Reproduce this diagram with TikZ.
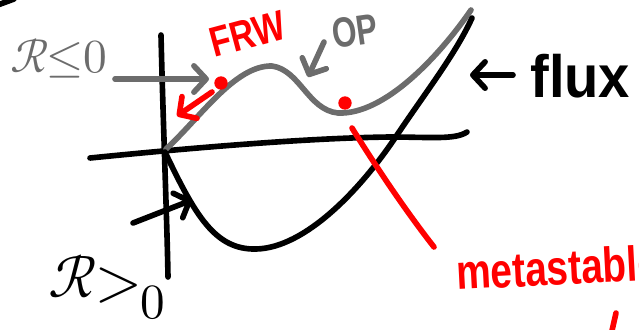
\documentclass[tikz,border=0pt]{standalone}
\usepackage{fontspec}
\usepackage{unicode-math}
\setmainfont{Liberation Sans}
\setmathfont{Latin Modern Math}
\usetikzlibrary{arrows.meta}
\definecolor{pencil}{RGB}{108,108,108}
\definecolor{marker}{RGB}{255,0,0}

\begin{document}
\begin{tikzpicture}[
  x=0.02cm, y=-0.02cm,
  ink/.style={line width=3.2pt, line cap=round, line join=round},
  arrow/.style={ink, -{Straight Barb[length=7pt, width=15pt, round]}},
  lbl/.style={inner sep=0pt, anchor=base west}
]
\useasboundingbox (0,0) rectangle (639,329);
\clip (0,0) rectangle (639,329);
\draw[ink] (-5,6) -- (14,-1);
\draw[ink] (161,35) .. controls (163,120) and (167,220) .. (168,277);
\draw[ink] (90,158) .. controls (170,150) and (300,138) .. (390,137) .. controls (430,137) and (455,140) .. (467,132);
\draw[ink, pencil] (166,149) .. controls (200,118) and (235,65) .. (272,66) .. controls (300,70) and (308,110) .. (338,113) .. controls (385,115) and (440,55) .. (471,10);
\draw[ink] (165,152) .. controls (195,215) and (215,250) .. (256,249) .. controls (305,248) and (360,190) .. (395,138) .. controls (425,93) and (455,55) .. (472,18);
\draw[ink, marker] (352,128) .. controls (375,165) and (405,210) .. (434,247);
\fill[marker] (221,83) circle[radius=3.8pt];
\fill[marker] (345,103) circle[radius=3.8pt];
\node[lbl, pencil, font=\fontsize{27}{27}\selectfont] (rneg) at (10,72) {$\mathcal{R}\mkern-6mu\leq\mkern-5mu0$};
\node[lbl, marker, font=\bfseries\fontsize{24}{24}\selectfont, rotate=15, xscale=0.8] (frw) at (214,58) {FRW};
\node[lbl, pencil, font=\bfseries\fontsize{24}{24}\selectfont, rotate=8, xscale=0.75] (op) at (334,49) {OP};
\node[lbl, font=\bfseries\fontsize{34}{34}\selectfont, xscale=0.94] (flux) at (530,97) {flux};
\node[lbl, marker, font=\bfseries\fontsize{28}{28}\selectfont, rotate=3, xscale=0.79] (meta) at (457,290) {metastable};
\node[lbl, font=\fontsize{34}{34}\selectfont] (rpos) at (48,297) {$\mathcal{R}$\kern-1pt\raisebox{-2pt}{$>$}\kern-1pt\raisebox{-12pt}{\fontsize{28}{28}\selectfont$0$}};
\coordinate (rnegtail) at (115,79);
\coordinate (rneghead) at (209,79);
\coordinate (frwtail) at (212,92);
\coordinate (frwhead) at (177,116);
\coordinate (optail) at (324,42);
\coordinate (ophead) at (308,77);
\coordinate (fluxtail) at (513,75);
\coordinate (fluxhead) at (470,75);
\coordinate (rpostail) at (133,223);
\coordinate (rposhead) at (192,200);
\draw[arrow, pencil] (rnegtail) -- (rneghead);
\draw[arrow, marker] (frwtail) -- (frwhead);
\draw[arrow, pencil] (optail) -- (ophead);
\draw[arrow] (fluxtail) -- (fluxhead);
\draw[arrow] (rpostail) -- (rposhead);
\draw[ink, marker] (616,313) -- (611,335);
\end{tikzpicture}
\end{document}
